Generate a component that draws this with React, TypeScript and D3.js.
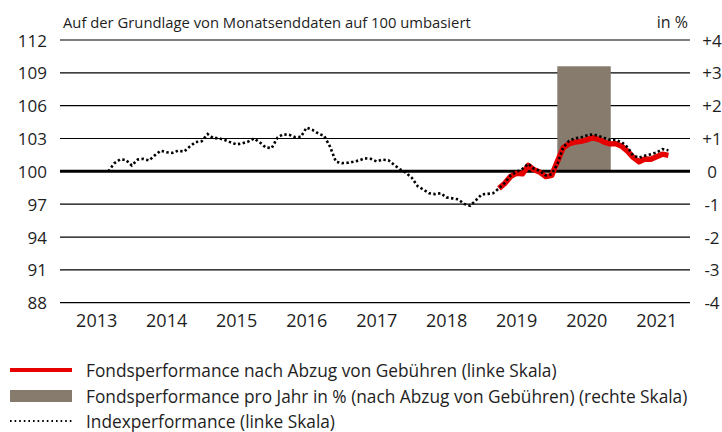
import React, { useEffect, useRef } from 'react';
import * as d3 from 'd3';

// month-end data, rebased to 100
const indexStart = '2013-08';
const indexValues = [
    100.0, 100.73, 101.09, 101.05, 100.53,
    101.08, 101.14, 101.0, 101.46, 101.89, 101.75, 101.69, 101.9, 101.8, 102.29, 102.68, 102.75,
    103.41, 103.04, 103.03, 102.87, 102.65, 102.46, 102.56, 102.72, 103.0, 102.63, 102.19, 102.12,
    103.1, 103.38, 103.34, 103.13, 103.15, 103.99, 103.79, 103.45, 103.24, 102.24, 100.89, 100.75,
    100.78, 100.87, 101.0, 101.19, 101.14, 100.91, 101.07, 101.02, 100.59, 100.18, 99.88, 99.41,
    98.63, 98.35, 98.0, 97.92, 98.0, 97.62, 97.53, 97.44, 97.03, 96.85, 97.35, 97.9,
    97.94, 98.0, 98.45, 98.95, 99.63, 99.95, 100.23, 100.69, 100.23, 100.05, 99.63, 99.73,
    100.73, 102.19, 102.79, 103.02, 103.09, 103.27, 103.38, 103.24, 103.06, 102.88, 102.86, 102.65,
    102.19, 101.44, 101.25, 101.43, 101.55, 101.72, 102.03, 101.92,
];

const fundStart = '2019-03';
const fundValues = [
    98.45, 98.9, 99.54, 99.82, 99.77, 100.55, 100.14, 99.91, 99.52, 99.63,
    100.96, 102.15, 102.53, 102.67, 102.74, 102.88, 103.08, 102.93, 102.68, 102.51, 102.53, 102.29,
    101.83, 101.28, 100.87, 101.12, 101.1, 101.33, 101.57, 101.46,
];

// yearly performance in % (right axis)
const barYears = [2020];
const barValues = [3.2];

const years = [2013, 2014, 2015, 2016, 2017, 2018, 2019, 2020, 2021];
const leftTicks = [88, 91, 94, 97, 100, 103, 106, 109, 112];
const rightTicks = ['-4', '-3', '-2', '-1', '0', '+1', '+2', '+3', '+4'];

const legendItems = [
    'Fondsperformance nach Abzug von Gebühren (linke Skala)',
    'Fondsperformance pro Jahr in % (nach Abzug von Gebühren) (rechte Skala)',
    'Indexperformance (linke Skala)',
];

const RED = '#e60000';
const BROWN = '#877b6e';
const INK = '#1e1e1e';
const FONT = '"Open Sans", sans-serif';

type Pt = { date: Date; value: number };

const monthSeries = (start: string, values: number[]): Pt[] => {
    const [y, m] = start.split('-').map(Number);
    // last day of each month
    return values.map((v, i) => ({ date: new Date(y, m - 1 + i + 1, 0), value: v }));
};

const App: React.FC = () => {
    const svgRef = useRef<SVGSVGElement>(null);

    useEffect(() => {
        const width = 722;
        const height = 432;
        const svg = d3.select(svgRef.current);
        svg.selectAll('*').remove();
        svg.attr('width', width).attr('height', height);

        const gridLeft = 60;
        const gridRight = 690;

        const x = d3.scaleTime()
            .domain([new Date(2013, 0, 1), new Date(2022, 0, 1)])
            .range([62, 692]);

        const y = d3.scaleLinear().domain([88, 112]).range([302.7, 40]);
        const yRight = d3.scaleLinear().domain([-4, 4]).range([302.7, 40]);

        // header texts
        svg.append('text')
            .attr('x', 63).attr('y', 28)
            .style('font-family', FONT).style('font-size', '14.8px').attr('fill', INK)
            .text('Auf der Grundlage von Monatsenddaten auf 100 umbasiert');
        svg.append('text')
            .attr('x', 688).attr('y', 28).attr('text-anchor', 'end')
            .style('font-family', FONT).style('font-size', '16px').attr('fill', INK)
            .text('in %');

        // grid lines
        svg.append('g')
            .selectAll('line')
            .data(leftTicks)
            .join('line')
            .attr('x1', gridLeft).attr('x2', gridRight)
            .attr('y1', d => y(d)).attr('y2', d => y(d))
            .attr('stroke', '#000')
            .attr('stroke-width', d => (d === 100 ? 0 : 1.2));

        // left axis labels
        svg.append('g')
            .selectAll('text')
            .data(leftTicks)
            .join('text')
            .attr('x', 47).attr('y', d => y(d))
            .attr('text-anchor', 'end').attr('dominant-baseline', 'central')
            .style('font-family', FONT).style('font-size', '17px').attr('fill', INK)
            .text(d => d);

        // right axis labels
        svg.append('g')
            .selectAll('text')
            .data(rightTicks)
            .join('text')
            .attr('x', 712).attr('y', d => yRight(+d))
            .attr('text-anchor', 'middle').attr('dominant-baseline', 'central')
            .style('font-family', FONT).style('font-size', '17px').attr('fill', INK)
            .text(d => d);

        // year labels
        svg.append('g')
            .selectAll('text')
            .data(years)
            .join('text')
            .attr('x', d => x(new Date(d, 6, 1)))
            .attr('y', 327)
            .attr('text-anchor', 'middle')
            .style('font-family', FONT).style('font-size', '18px').attr('fill', INK)
            .text(d => d);

        // yearly bars (drawn inside the year band)
        svg.append('g')
            .selectAll('rect')
            .data(barYears.map((yr, i) => ({ yr, v: barValues[i] })))
            .join('rect')
            .attr('x', d => {
                const x0 = x(new Date(d.yr, 0, 1));
                const w = x(new Date(d.yr + 1, 0, 1)) - x0;
                return x0 + w * 0.077;
            })
            .attr('width', d => {
                const x0 = x(new Date(d.yr, 0, 1));
                const w = x(new Date(d.yr + 1, 0, 1)) - x0;
                return w * 0.762;
            })
            .attr('y', d => yRight(Math.max(0, d.v)))
            .attr('height', d => Math.abs(yRight(d.v) - yRight(0)))
            .attr('fill', BROWN);

        // zero / 100 line
        svg.append('line')
            .attr('x1', gridLeft).attr('x2', gridRight)
            .attr('y1', y(100)).attr('y2', y(100))
            .attr('stroke', '#000').attr('stroke-width', 3);

        const line = d3.line<Pt>()
            .x(d => x(d.date))
            .y(d => y(d.value));

        svg.append('path')
            .datum(monthSeries(fundStart, fundValues))
            .attr('fill', 'none')
            .attr('stroke', RED)
            .attr('stroke-width', 5.5)
            .attr('stroke-linejoin', 'round')
            .attr('d', line);

        svg.append('path')
            .datum(monthSeries(indexStart, indexValues))
            .attr('fill', 'none')
            .attr('stroke', '#000')
            .attr('stroke-width', 2.6)
            .attr('stroke-dasharray', '2.4,2.4')
            .attr('d', line);

        // legend
        const legend = svg.append('g');
        const rowY = [370, 396, 421];
        legend.append('line')
            .attr('x1', 10).attr('x2', 72).attr('y1', rowY[0]).attr('y2', rowY[0])
            .attr('stroke', RED).attr('stroke-width', 4);
        legend.append('rect')
            .attr('x', 10).attr('width', 62).attr('y', rowY[1] - 6).attr('height', 12)
            .attr('fill', BROWN);
        legend.append('line')
            .attr('x1', 10).attr('x2', 72).attr('y1', rowY[2]).attr('y2', rowY[2])
            .attr('stroke', '#000').attr('stroke-width', 2.2)
            .attr('stroke-dasharray', '1.6,3');
        legend.selectAll('text')
            .data(legendItems)
            .join('text')
            .attr('x', 86).attr('y', (_, i) => rowY[i])
            .attr('dominant-baseline', 'central')
            .style('font-family', FONT).style('font-size', '17.3px').attr('fill', INK)
            .text(d => d);
    }, []);

    return <svg ref={svgRef} style={{ position: 'absolute', left: 0, top: 0, background: '#fff' }}></svg>;
};

export default App;
